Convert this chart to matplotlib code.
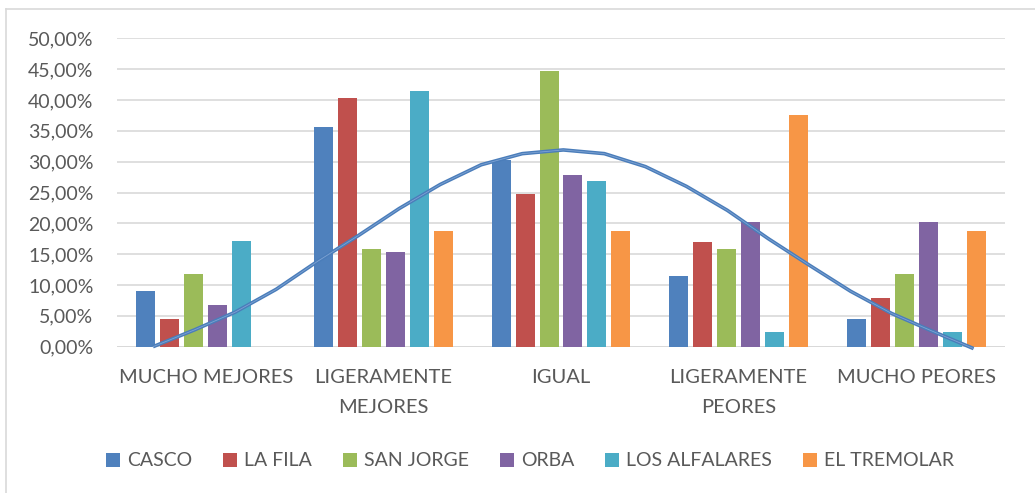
import numpy as np
import matplotlib
matplotlib.use("Agg")
import matplotlib.pyplot as plt
from matplotlib.patches import Patch
from matplotlib.lines import Line2D

# categories on the x axis
categories = ["MUCHO MEJORES", "LIGERAMENTE\nMEJORES", "IGUAL", "LIGERAMENTE\nPEORES", "MUCHO PEORES"]

# one list per zone, in %
casco = [9.09, 35.6, 30.2, 11.4, 4.5]
la_fila = [4.5, 40.4, 24.7, 16.9, 7.9]
san_jorge = [11.8, 15.8, 44.7, 15.8, 11.8]
orba = [6.7, 15.4, 27.8, 20.2, 20.2]
los_alfalares = [17.1, 41.5, 26.8, 2.4, 2.4]
el_tremolar = [0.0, 18.8, 18.8, 37.5, 18.8]

series_names = ["CASCO", "LA FILA", "SAN JORGE", "ORBA", "LOS ALFALARES", "EL TREMOLAR"]
series_colors = ["#4F81BD", "#C0504D", "#9BBB59", "#8064A2", "#4BACC6", "#F79646"]

# bell curve drawn over the bars (x in category units, y in %)
curve_x = [-0.297, -0.066, 0.165, 0.396, 0.627, 0.858, 1.089, 1.320, 1.551, 1.782,
           2.013, 2.244, 2.475, 2.706, 2.937, 3.168, 3.399, 3.630, 3.861, 4.092, 4.323]
curve_y = [0.0, 2.7, 5.6, 9.3, 13.8, 18.0, 22.4, 26.3, 29.5, 31.3,
           31.9, 31.3, 29.2, 26.0, 22.1, 17.5, 13.2, 9.0, 5.4, 2.5, -0.3]

yticks = [0, 5, 10, 15, 20, 25, 30, 35, 40, 45, 50]
ytick_labels = ["0,00%", "5,00%", "10,00%", "15,00%", "20,00%", "25,00%",
                "30,00%", "35,00%", "40,00%", "45,00%", "50,00%"]

plt.rcParams['font.family'] = ['Lato', 'DejaVu Sans']
text_color = "#595959"
grid_color = "#D9D9D9"

W, H = 1035, 493
fig = plt.figure(figsize=(W / 100, H / 100), dpi=100)
ax = fig.add_axes([117 / W, 1 - 346.7 / H, (1005 - 117) / W, (346.7 - 38.3) / H])

all_series = [casco, la_fila, san_jorge, orba, los_alfalares, el_tremolar]
x = np.arange(len(categories))
step = 0.135
for i, (vals, name, col) in enumerate(zip(all_series, series_names, series_colors)):
    ax.bar(x + (i - 2.5) * step, vals, width=0.107, color=col, label=name, zorder=2)

ax.plot(curve_x, curve_y, color="#4A7DBA", lw=2.6, zorder=4, clip_on=False,
        solid_capstyle='butt')
ax.plot(curve_x, curve_y, color="#7FA3D3", lw=0.6, zorder=5, clip_on=False)

ax.set_xlim(-0.5, 4.5)
ax.set_ylim(0, 50)
ax.set_yticks(yticks)
ax.set_yticklabels(ytick_labels, fontsize=14, color=text_color)
ax.set_xticks(x)
ax.set_xticklabels(categories, fontsize=14.5, color=text_color, linespacing=1.95)
ax.tick_params(axis='y', length=0, pad=17)
ax.tick_params(axis='x', length=0, pad=16)
ax.yaxis.grid(True, color=grid_color, lw=1.2, zorder=0)
ax.set_axisbelow(True)
for s in ax.spines.values():
    s.set_visible(False)
ax.axhline(0, color=grid_color, lw=1.4, zorder=1)

handles = [Patch(facecolor=c, edgecolor='none') for c in series_colors]
fig.legend(handles, series_names, loc='center', bbox_to_anchor=(530 / W, 1 - 461 / H),
           ncol=6, frameon=False, fontsize=14, labelcolor=text_color,
           handlelength=0.72, handleheight=0.72, handletextpad=0.35,
           columnspacing=1.6, borderpad=0)

# chart frame (only top and left edges are inside the picture)
fig.add_artist(Line2D([6 / W, 1], [1 - 9.3 / H, 1 - 9.3 / H], color=grid_color, lw=1.2))
fig.add_artist(Line2D([6 / W, 6 / W], [0, 1 - 9.3 / H], color=grid_color, lw=1.2))

fig.savefig("out.png", dpi=100, facecolor="white")
